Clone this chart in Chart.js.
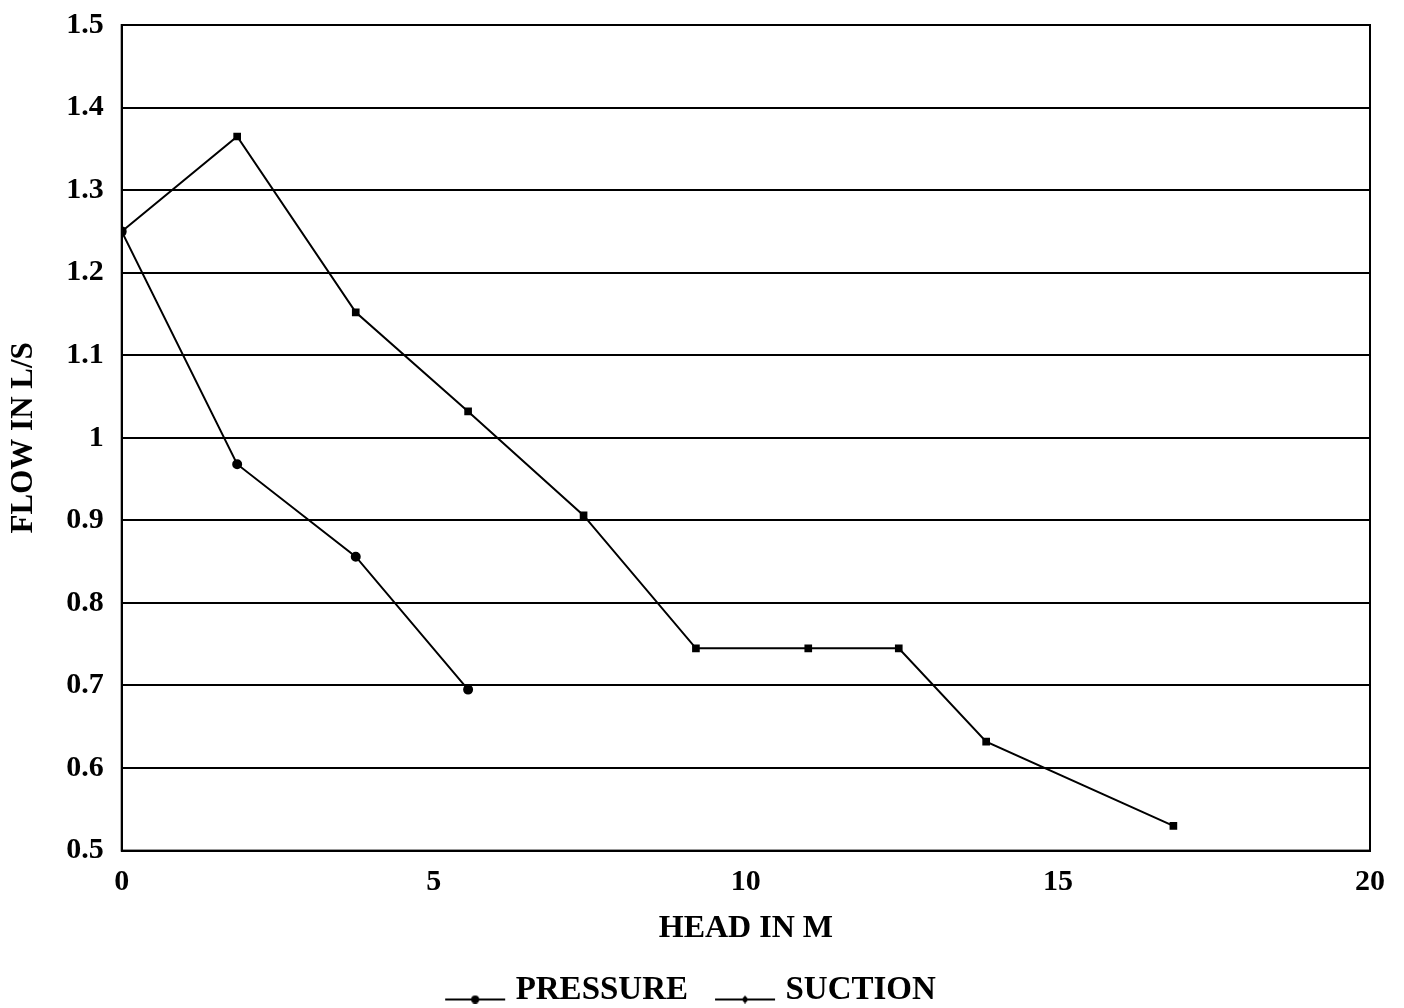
<!DOCTYPE html>
<html>
<head>
<meta charset="utf-8">
<script src="https://cdn.jsdelivr.net/npm/chart.js@4.4.1/dist/chart.umd.min.js"></script>
<style>
  html, body { margin: 0; padding: 0; background: #fff; }
  #wrap { width: 1404px; height: 1008px; position: relative; }
</style>
</head>
<body>
<div id="wrap"><canvas id="myChart"></canvas></div>
<script>
// data
const headPressure = [0, 1.85, 3.75, 5.55, 7.4, 9.2, 11.0, 12.45, 13.85, 16.85];
const flowPressure = [1.25, 1.365, 1.152, 1.032, 0.906, 0.745, 0.745, 0.745, 0.632, 0.53];
const headSuction = [0, 1.85, 3.75, 5.55];
const flowSuction = [1.25, 0.968, 0.856, 0.695];
const seriesNames = ['PRESSURE', 'SUCTION'];
const xTicks = [0, 5, 10, 15, 20];
const yTicks = [0.5, 0.6, 0.7, 0.8, 0.9, 1, 1.1, 1.2, 1.3, 1.4, 1.5];

const FONT = '"Liberation Serif", "Times New Roman", serif';

function toPoints(xs, ys) {
  return xs.map(function (x, i) { return { x: x, y: ys[i] }; });
}

// legend swatch: short line with a dot in the middle, shifted right toward the text
function legendSwatch(style) {
  const c = document.createElement('canvas');
  c.width = 80; c.height = 26;
  const g = c.getContext('2d');
  g.strokeStyle = '#000';
  g.lineWidth = 2;
  g.beginPath();
  g.moveTo(16, 22); g.lineTo(76, 22);
  g.stroke();
  g.fillStyle = '#000';
  g.beginPath();
  if (style === 'dot') {
    g.arc(46, 22, 4, 0, Math.PI * 2);
  } else {
    g.moveTo(46, 18); g.lineTo(49.5, 22); g.lineTo(46, 26); g.lineTo(42.5, 22);
    g.closePath();
  }
  g.fill();
  return c;
}

const frame = {
  id: 'frame',
  afterDatasetsDraw: function (chart) {
    const a = chart.chartArea;
    const g = chart.ctx;
    g.save();
    g.strokeStyle = '#000';
    g.lineWidth = 2;
    g.strokeRect(a.left, a.top, a.right - a.left, a.bottom - a.top);
    g.restore();
  }
};

const ctx = document.getElementById('myChart');
const myChart = new Chart(ctx, {
  type: 'line',
  data: {
    datasets: [{
      label: seriesNames[0],
      data: toPoints(headPressure, flowPressure),
      borderColor: '#000',
      backgroundColor: '#000',
      borderWidth: 2,
      pointStyle: 'rect',
      pointRadius: 4,
      tension: 0
    }, {
      label: seriesNames[1],
      data: toPoints(headSuction, flowSuction),
      borderColor: '#000',
      backgroundColor: '#000',
      borderWidth: 2,
      pointStyle: 'circle',
      pointRadius: 4,
      tension: 0
    }]
  },
  options: {
    responsive: true,
    maintainAspectRatio: false,
    animation: false,
    layout: { padding: { top: 25, right: 34, left: 5, bottom: -9 } },
    plugins: {
      tooltip: { enabled: false },
      legend: {
        position: 'bottom',
        labels: {
          usePointStyle: true,
          pointStyleWidth: 60,
          color: '#000',
          font: { family: FONT, size: 33, weight: 'bold' },
          padding: 21,
          generateLabels: function (chart) {
            return chart.data.datasets.map(function (ds, i) {
              return {
                text: ds.label,
                pointStyle: legendSwatch(i === 0 ? 'dot' : 'diamond'),
                fillStyle: '#000',
                strokeStyle: '#000',
                lineWidth: 0,
                fontColor: '#000',
                datasetIndex: i
              };
            });
          }
        }
      }
    },
    scales: {
      x: {
        type: 'linear',
        min: 0,
        max: 20,
        afterBuildTicks: function (axis) {
          axis.ticks = xTicks.map(function (v) { return { value: v }; });
        },
        grid: { display: false, drawTicks: false },
        border: { color: '#000', width: 2 },
        ticks: {
          color: '#000',
          padding: 14,
          font: { family: FONT, size: 30, weight: 'bold' }
        },
        title: {
          display: true,
          text: 'HEAD IN M',
          color: '#000',
          padding: { top: -5, bottom: 5 },
          font: { family: FONT, size: 32, weight: 'bold' }
        }
      },
      y: {
        min: 0.5,
        max: 1.5,
        afterBuildTicks: function (axis) {
          axis.ticks = yTicks.map(function (v) { return { value: v }; });
        },
        afterFit: function (axis) {
          // let the plot reach up to the top padding, the 1.5 label may overhang
          axis.paddingTop = 0;
        },
        grid: { color: '#000', lineWidth: 2, drawTicks: false },
        border: { color: '#000', width: 2 },
        ticks: {
          color: '#000',
          padding: 18,
          font: { family: FONT, size: 30, weight: 'bold' },
          callback: function (v) { return String(Number(v.toFixed(1))); }
        },
        title: {
          display: true,
          text: 'FLOW IN L/S',
          color: '#000',
          padding: { top: 0, bottom: 6 },
          font: { family: FONT, size: 31, weight: 'bold' }
        }
      }
    }
  },
  plugins: [frame]
});
</script>
</body>
</html>
